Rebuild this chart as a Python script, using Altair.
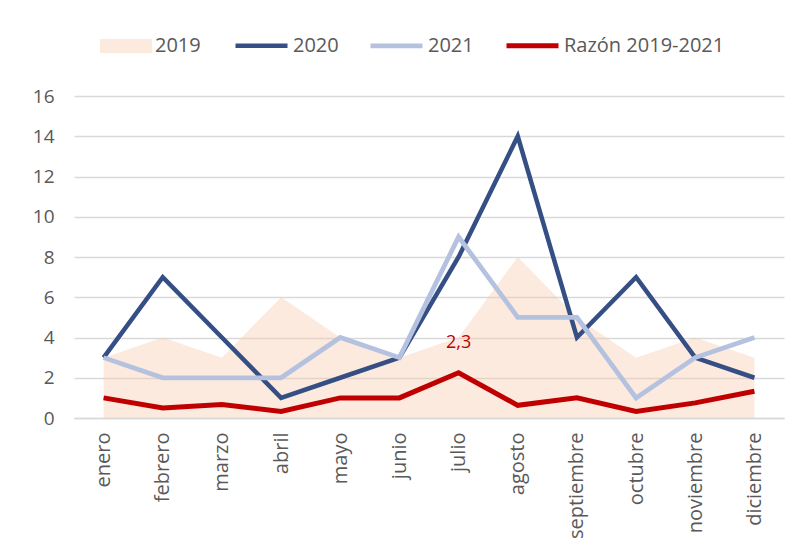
import altair as alt
import pandas as pd

months = ["enero", "febrero", "marzo", "abril", "mayo", "junio", "julio",
          "agosto", "septiembre", "octubre", "noviembre", "diciembre"]
v2019 = [3, 4, 3, 6, 4, 3, 4, 8, 5, 3, 4, 3]
v2020 = [3, 7, 4, 1, 2, 3, 8, 14, 4, 7, 3, 2]
v2021 = [3, 2, 2, 2, 4, 3, 9, 5, 5, 1, 3, 4]
razon = [1.0, 0.5, 0.67, 0.33, 1.0, 1.0, 2.25, 0.63, 1.0, 0.33, 0.75, 1.33]
razon_labels = ["", "", "", "", "", "", "2,3", "", "", "", "", ""]

area_series = ["2019"]
line_series = ["2020", "2021", "Razón 2019-2021"]
area_color = ["#F8CBAD"]
line_colors = ["#354F85", "#B4C2E0", "#C00000"]
line_widths = [4.5, 5, 3.5]

rows = []
for name, vals in zip(area_series + line_series, [v2019, v2020, v2021, razon]):
    for i, m in enumerate(months):
        rows.append({"mes": m, "serie": name, "valor": vals[i],
                     "etiqueta": razon_labels[i] if name == line_series[2] else ""})
df = pd.DataFrame(rows)

x = alt.X("mes:N", sort=months,
          scale=alt.Scale(type="point", padding=0.5),
          axis=alt.Axis(title=None, labelAngle=270, ticks=False, domain=True,
                        domainColor="#D9D9D9", domainWidth=1.5,
                        labelFontSize=20, labelColor="#595959",
                        labelFont="Open Sans", labelPadding=14, grid=False))
y = alt.Y("valor:Q", scale=alt.Scale(domain=[0, 16], nice=False),
          axis=alt.Axis(title=None, values=list(range(0, 17, 2)), domain=False,
                        ticks=False, gridColor="#D9D9D9", gridWidth=1.5,
                        labelFontSize=19, labelColor="#595959",
                        labelFont="Open Sans", labelPadding=20))

legend_common = dict(title=None, orient="none", direction="horizontal",
                     labelFontSize=20, labelFont="Open Sans",
                     labelColor="#595959", labelOffset=3, columnPadding=22,
                     labelLimit=400, padding=0, symbolSize=2704)

fill = alt.Fill(
    "serie:N", scale=alt.Scale(domain=area_series, range=area_color),
    legend=alt.Legend(legendX=26, legendY=-76, columns=1,
                      symbolType="M-1,-0.27H1V0.27H-1Z", symbolOpacity=0.4,
                      symbolStrokeWidth=0, **legend_common))

stroke = alt.Stroke(
    "serie:N", scale=alt.Scale(domain=line_series, range=line_colors),
    legend=alt.Legend(legendX=159, legendY=-79, columns=3,
                      symbolType="stroke", symbolStrokeWidth=4.5,
                      **legend_common))

base = alt.Chart(df)

area = base.transform_filter(alt.datum.serie == "2019").mark_area(
    opacity=0.4).encode(x=x, y=y, fill=fill)

lines = base.transform_filter(alt.datum.serie != "2019").mark_line().encode(
    x=x, y=y, stroke=stroke,
    strokeWidth=alt.StrokeWidth("serie:N",
                                scale=alt.Scale(domain=line_series, range=line_widths),
                                legend=None),
    order=alt.Order("serie:N"))

labels = base.transform_filter(alt.datum.etiqueta != "").mark_text(
    dy=-30, fontSize=18, font="Open Sans", color="#C00000").encode(
    x=x, y=y, text="etiqueta:N")

chart = alt.layer(area, lines, labels).properties(
    width=710, height=322,
    autosize=alt.AutoSizeParams(type="none"),
    padding={"left": 66, "top": 88, "right": 8, "bottom": 130},
).configure_view(stroke=None)

chart.save("out.html", embed_options={"renderer": "svg", "actions": False})
